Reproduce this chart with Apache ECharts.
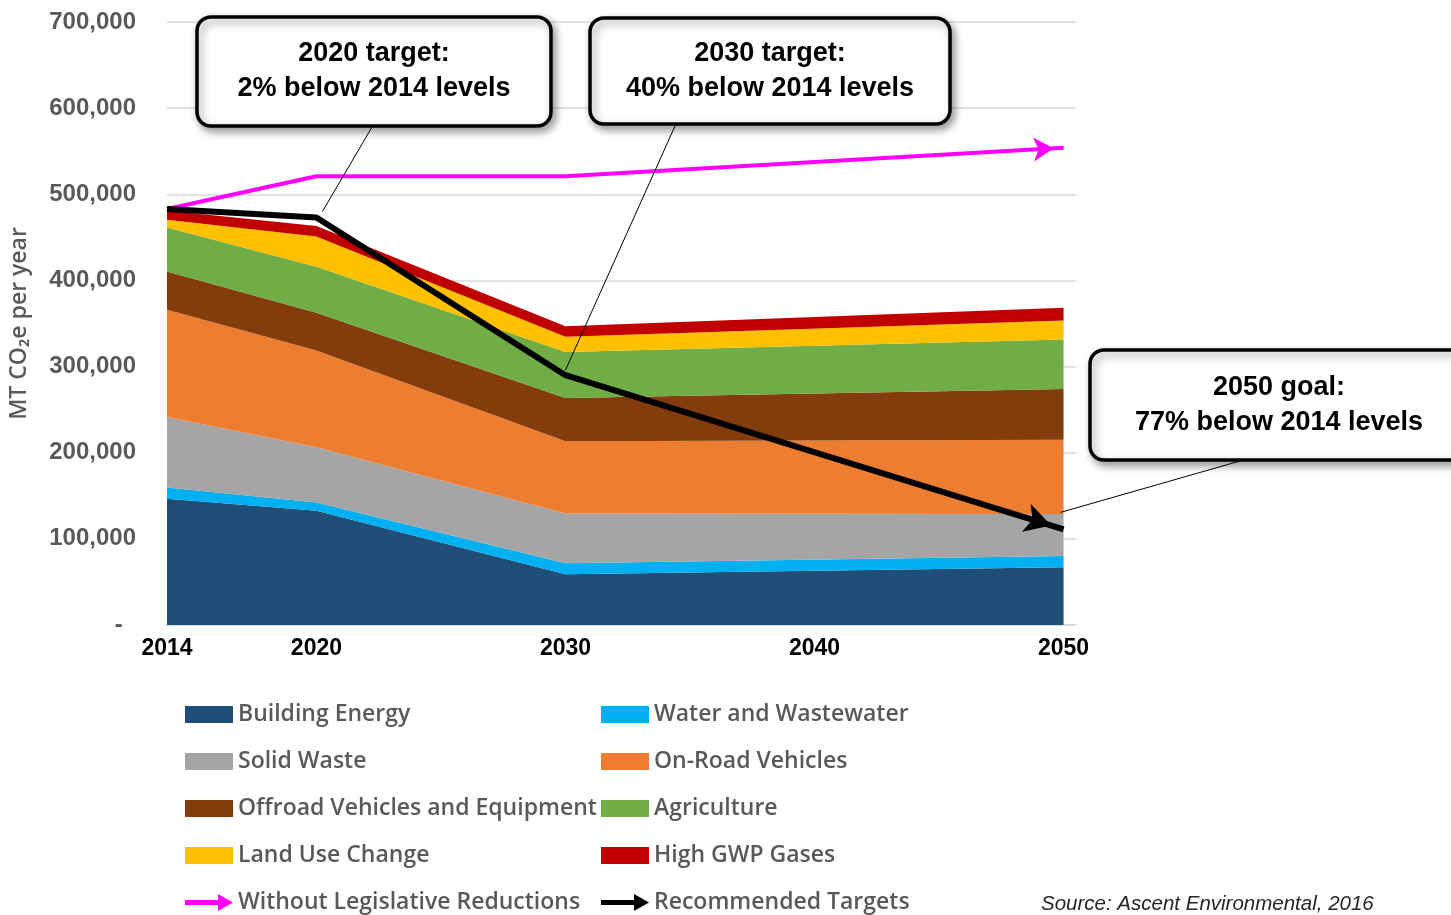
<!DOCTYPE html>
<html lang="en">
<head>
<meta charset="utf-8">
<title>GHG forecast and targets</title>
<script src="https://cdn.jsdelivr.net/npm/echarts@6/dist/echarts.min.js"></script>
<style>
  html, body { margin: 0; padding: 0; background: #fff; }
  #main { width: 1451px; height: 915px; }
</style>
</head>
<body>
<div id="main"></div>
<script>
// years with data points, and the labelled ticks
var years = [2014, 2020, 2030, 2050];
var xTicks = [2014, 2020, 2030, 2040, 2050];

// sector emissions (MT CO2e per year), stacked
var buildingEnergy  = [146500, 132600, 58900, 67000];
var waterWastewater = [13200, 9600, 12800, 13200];
var solidWaste      = [81800, 64000, 57700, 48800];
var onRoad          = [124500, 112400, 83800, 86000];
var offroad         = [44300, 43800, 50400, 59000];
var agriculture     = [51000, 53500, 53400, 57400];
var landUse         = [9000, 35000, 17500, 22000];
var highGwp         = [11000, 12400, 12400, 15000];

// lines
var withoutLegislative = [483000, 521000, 521000, 554000];
var recommended        = [483000, 473000, 290000, 111000];

var sectorNames = ['Building Energy', 'Water and Wastewater', 'Solid Waste', 'On-Road Vehicles',
  'Offroad Vehicles and Equipment', 'Agriculture', 'Land Use Change', 'High GWP Gases'];
var sectorValues = [buildingEnergy, waterWastewater, solidWaste, onRoad, offroad, agriculture, landUse, highGwp];
var sectorColors = ['#1F4E79', '#00B0F0', '#A5A5A5', '#ED7D31', '#843C0C', '#70AD47', '#FFC000', '#C00000'];

var callouts = [
  { lines: ['2020 target:', '2% below 2014 levels'], box: [197, 17, 354, 109], from: [372, 127], idx: 1, off: [6, -6] },
  { lines: ['2030 target:', '40% below 2014 levels'], box: [590, 18, 360, 106], from: [675, 126], idx: 2, off: [0, -5] },
  { lines: ['2050 goal:', '77% below 2014 levels'], box: [1090, 350, 378, 110], from: [1240, 461], idx: 3, off: [-3, -17] }
];

// rows are [value, year] so the stack goes on the y dimension (x is a value axis too)
function rows(vals) {
  return vals.map(function (v, i) { return [v, years[i]]; });
}

var series = [];
for (var i = 0; i < sectorNames.length; i++) {
  series.push({
    name: sectorNames[i],
    type: 'line',
    stack: 'total',
    symbol: 'none',
    encode: { x: 1, y: 0 },
    color: sectorColors[i],
    lineStyle: { width: 0 },
    areaStyle: { color: sectorColors[i], opacity: 1 },
    data: rows(sectorValues[i])
  });
}
series.push({
  id: 'without', name: 'Without Legislative Reductions', type: 'line',
  symbol: 'none', encode: { x: 1, y: 0 }, color: '#FF00FF',
  lineStyle: { width: 4, color: '#FF00FF' },
  data: rows(withoutLegislative), z: 5
});
series.push({
  id: 'recommended', name: 'Recommended Targets', type: 'line',
  symbol: 'none', encode: { x: 1, y: 0 }, color: '#000000',
  lineStyle: { width: 6, color: '#000000' },
  data: rows(recommended), z: 6
});

var arrowIcon = 'path://M0,6 L33,6 L33,0 L48,8.5 L33,17 L33,11 L0,11 Z';
var legendText = { fontFamily: 'Open Sans', fontWeight: 600, fontSize: 23, color: '#595959', lineHeight: 25 };

var chart = echarts.init(document.getElementById('main'));
var option = {
  animation: false,
  grid: { left: 167, right: 375, top: 22, bottom: 290 },
  xAxis: {
    type: 'value', min: 2014, max: 2050.5,
    axisLine: { show: true, lineStyle: { color: '#d9d9d9', width: 1.5 } },
    axisTick: { show: false },
    splitLine: { show: false },
    axisLabel: {
      customValues: xTicks, margin: 12,
      fontFamily: 'Liberation Sans', fontWeight: 'bold', fontSize: 23, color: '#000',
      formatter: function (v) { return String(v); }
    }
  },
  yAxis: {
    type: 'value', min: 0, max: 700000, interval: 100000,
    name: 'MT CO\u2082e per year', nameLocation: 'middle', nameGap: 136, nameRotate: 90,
    nameTextStyle: { fontFamily: 'Open Sans', fontWeight: 600, fontSize: 23, color: '#595959' },
    axisLine: { show: false }, axisTick: { show: false },
    splitLine: { lineStyle: { color: '#d9d9d9', width: 1.5 } },
    axisLabel: {
      margin: 31, fontFamily: 'Liberation Sans', fontWeight: 'bold', fontSize: 24, color: '#595959',
      formatter: function (v) { return v === 0 ? '-  ' : v.toLocaleString('en-US'); }
    }
  },
  legend: [
    {
      orient: 'vertical', left: 185, top: 702, height: 213, padding: 0, itemGap: 22,
      itemWidth: 48, itemHeight: 17, icon: 'rect', textStyle: legendText,
      data: ['Building Energy', 'Solid Waste', 'Offroad Vehicles and Equipment', 'Land Use Change',
        { name: 'Without Legislative Reductions', icon: arrowIcon }]
    },
    {
      orient: 'vertical', left: 601, top: 702, height: 213, padding: 0, itemGap: 22,
      itemWidth: 48, itemHeight: 17, icon: 'rect', textStyle: legendText,
      data: ['Water and Wastewater', 'On-Road Vehicles', 'Agriculture', 'High GWP Gases',
        { name: 'Recommended Targets', icon: arrowIcon }]
    }
  ],
  graphic: [{
    type: 'text', left: 1041, top: 894, z: 100,
    style: { text: 'Source: Ascent Environmental, 2016', font: 'italic 20.5px "Liberation Sans"', fill: '#262626' }
  }],
  series: series
};
chart.setOption(option);

// arrow heads at the 2050 end of both lines, pointing along the last segment
function arrowRows(vals, size) {
  var n = vals.length;
  var a = chart.convertToPixel({ gridIndex: 0 }, [years[n - 2], vals[n - 2]]);
  var b = chart.convertToPixel({ gridIndex: 0 }, [years[n - 1], vals[n - 1]]);
  var ang = Math.atan2(b[1] - a[1], b[0] - a[0]);
  var data = rows(vals);
  data[n - 1] = {
    value: data[n - 1], symbol: 'arrow', symbolSize: size,
    symbolRotate: -90 - ang * 180 / Math.PI,
    symbolOffset: [-Math.cos(ang) * size[1] / 2, -Math.sin(ang) * size[1] / 2]
  };
  return data;
}

// callout boxes with leader lines to the target points
var graphics = option.graphic.slice();
callouts.forEach(function (c) {
  var p = chart.convertToPixel({ gridIndex: 0 }, [years[c.idx], recommended[c.idx]]);
  graphics.push({
    type: 'line', z: 100,
    shape: { x1: c.from[0], y1: c.from[1], x2: p[0] + c.off[0], y2: p[1] + c.off[1] },
    style: { stroke: '#000', lineWidth: 1 }
  });
  graphics.push({
    type: 'rect', z: 101,
    shape: { x: c.box[0], y: c.box[1], width: c.box[2], height: c.box[3], r: 14 },
    style: {
      fill: '#fff', stroke: '#000', lineWidth: 3.5,
      shadowBlur: 8, shadowOffsetX: 3, shadowOffsetY: 4, shadowColor: 'rgba(0,0,0,0.4)'
    }
  });
  graphics.push({
    type: 'text', z: 102,
    x: c.box[0] + c.box[2] / 2, y: c.box[1] + c.box[3] / 2,
    style: {
      text: c.lines.join('\n'), font: 'bold 27px "Liberation Sans"', fill: '#000',
      align: 'center', verticalAlign: 'middle', lineHeight: 35
    }
  });
});

chart.setOption({
  graphic: graphics,
  series: [
    { id: 'without', showSymbol: true, data: arrowRows(withoutLegislative, [18, 20]) },
    { id: 'recommended', showSymbol: true, data: arrowRows(recommended, [22, 26]) }
  ]
});
</script>
</body>
</html>
